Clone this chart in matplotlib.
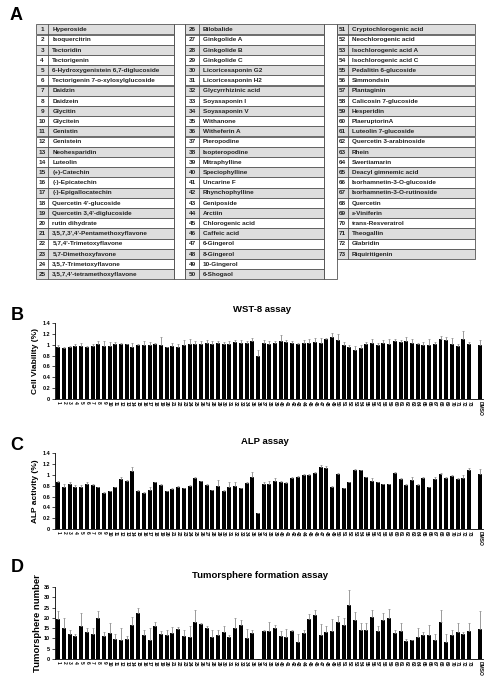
import numpy as np
import matplotlib
matplotlib.use("Agg")
import matplotlib.pyplot as plt
from matplotlib.patches import Rectangle

plt.rcParams['font.family'] = ['Liberation Sans', 'DejaVu Sans']

# --- Tabelle (Panel A) ---
compounds = [
    "Hyperoside", "Isoquercitrin", "Tectoridin", "Tectorigenin",
    "6-Hydroxygenistein 6,7-diglucoside", "Tectorigenin 7-o-xylosylglucoside",
    "Daidzin", "Daidzein", "Glycitin", "Glycitein", "Genistin", "Genistein",
    "Neohesparidin", "Luteolin", "(+)-Catechin", "(-)-Epicatechin",
    "(-)-Epigallocatechin", "Quercetin 4'-glucoside", "Quercetin 3,4'-diglucoside",
    "rutin dihydrate", "3,5,7,3',4'-Pentamethoxyflavone", "5,7,4'-Trimetoxyflavone",
    "5,7-Dimethoxyfavone", "3,5,7-Trimetoxyflavone", "3,5,7,4'-tetramethoxyflavone",
    "Bilobalide", "Ginkgolide A", "Ginkgolide B", "Ginkgolide C",
    "Licoricesaponin G2", "Licoricesaponin H2", "Glycyrrhizinic acid",
    "Soyasaponin I", "Soyasaponin V", "Withanone", "Witheferin A", "Pteropodine",
    "Isopteropodine", "Mitraphylline", "Speciophylline", "Uncarine F",
    "Rhynchophylline", "Geniposide", "Arctiin", "Chlorogenic acid", "Caffeic acid",
    "6-Gingerol", "8-Gingerol", "10-Gingerol", "6-Shogaol",
    "Cryptochlorogenic acid", "Neochlorogenic acid", "Isochlorogenic acid A",
    "Isochlorogenic acid C", "Pedalitin 6-glucoside", "Simmondsin", "Plantaginin",
    "Calicosin 7-glucoside", "Hesperidin", "PlaeruptorinA", "Luteolin 7-glucoside",
    "Quercetin 3-arabinoside", "Rhein", "Swertiamarin", "Deacyl gimnemic acid",
    "Isorhamnetin-3-O-glucoside", "Isorhamnetin-3-O-rutinoside", "Quercetin",
    "\u03b5-Viniferin", "trans-Resveratrol", "Theogallin", "Glabridin", "Riquiritigenin",
]

# --- Balkendaten ---
labels = [str(i) for i in range(1, 74)] + ["DMSO"]

wst8 = [0.96, 0.94, 0.96, 0.97, 0.98, 0.96, 0.97, 1.02, 0.97, 0.98,
        1.01, 1.02, 1.01, 0.95, 0.99, 1.00, 1.00, 1.02, 0.99, 0.95,
        0.98, 0.95, 0.99, 1.02, 1.02, 1.02, 1.03, 1.02, 1.03, 1.02,
        1.02, 1.05, 1.04, 1.04, 1.07, 0.79, 1.03, 1.02, 1.04, 1.06,
        1.05, 1.04, 1.02, 1.04, 1.04, 1.05, 1.04, 1.10, 1.14, 1.08,
        1.00, 0.96, 0.91, 0.94, 1.01, 1.03, 0.99, 1.04, 1.02, 1.06,
        1.05, 1.07, 1.04, 1.02, 1.00, 0.99, 1.01, 1.10, 1.08, 1.02,
        0.97, 1.10, 1.02, 1.00]
wst8_err = [0.04, 0.02, 0.02, 0.05, 0.05, 0.02, 0.05, 0.05, 0.09, 0.07,
            0.04, 0.01, 0.01, 0.08, 0.02, 0.07, 0.05, 0.01, 0.16, 0.01,
            0.05, 0.07, 0.10, 0.09, 0.04, 0.05, 0.05, 0.05, 0.03, 0.03,
            0.04, 0.04, 0.05, 0.02, 0.06, 0.11, 0.06, 0.04, 0.03, 0.11,
            0.03, 0.02, 0.02, 0.05, 0.06, 0.07, 0.08, 0.02, 0.08, 0.11,
            0.05, 0.04, 0.07, 0.05, 0.04, 0.08, 0.05, 0.04, 0.09, 0.05,
            0.04, 0.08, 0.07, 0.02, 0.05, 0.12, 0.04, 0.06, 0.07, 0.11,
            0.05, 0.15, 0.03, 0.09]

alp = [0.86, 0.78, 0.83, 0.78, 0.78, 0.83, 0.81, 0.77, 0.67, 0.70,
       0.77, 0.92, 0.89, 1.07, 0.70, 0.66, 0.73, 0.86, 0.81, 0.70,
       0.74, 0.78, 0.75, 0.80, 0.94, 0.88, 0.81, 0.72, 0.80, 0.71,
       0.78, 0.80, 0.75, 0.85, 0.97, 0.29, 0.83, 0.83, 0.89, 0.86,
       0.85, 0.95, 0.97, 1.00, 1.00, 1.03, 1.14, 1.12, 0.78, 1.01,
       0.75, 0.86, 1.10, 1.09, 0.96, 0.88, 0.86, 0.83, 0.83, 1.04,
       0.93, 0.81, 0.91, 0.81, 0.94, 0.77, 0.93, 1.02, 0.95, 0.98,
       0.93, 0.95, 1.09, 1.01]
alp_err = [0.02, 0.05, 0.03, 0.04, 0.03, 0.04, 0.03, 0.01, 0.01, 0.01,
           0.01, 0.04, 0.02, 0.08, 0.02, 0.02, 0.05, 0.01, 0.02, 0.01,
           0.01, 0.01, 0.01, 0.01, 0.02, 0.01, 0.02, 0.01, 0.10, 0.01,
           0.08, 0.06, 0.01, 0.01, 0.08, 0.00, 0.03, 0.05, 0.05, 0.03,
           0.02, 0.01, 0.01, 0.02, 0.01, 0.02, 0.05, 0.05, 0.01, 0.02,
           0.01, 0.01, 0.01, 0.01, 0.01, 0.06, 0.01, 0.01, 0.01, 0.01,
           0.02, 0.02, 0.06, 0.02, 0.02, 0.01, 0.03, 0.01, 0.01, 0.01,
           0.01, 0.04, 0.03, 0.10]

# Nr. 36 ohne Tumorsphären
tumor = [19.5, 15.0, 12.2, 11.2, 15.8, 13.2, 12.2, 20.0, 11.4, 12.5,
         9.6, 9.3, 9.9, 16.4, 22.6, 11.7, 9.3, 16.1, 12.2, 11.7,
         12.5, 14.5, 11.2, 10.6, 18.1, 17.1, 15.0, 10.9, 11.7, 13.0,
         10.6, 15.0, 16.6, 10.4, 12.5, 0.0, 13.4, 13.7, 15.3, 11.2,
         10.6, 13.4, 8.3, 12.5, 19.4, 21.5, 11.6, 13.0, 13.7, 17.8,
         16.4, 26.4, 19.1, 14.2, 14.2, 20.5, 13.8, 18.9, 19.9, 12.5,
         13.8, 8.8, 9.3, 10.9, 11.7, 11.7, 9.0, 18.2, 8.5, 11.9,
         13.2, 12.1, 13.4, 14.7]
tumor_err = [3.9, 4.9, 2.0, 1.1, 6.5, 2.1, 2.8, 3.4, 1.5, 4.9,
             2.4, 5.7, 1.3, 3.9, 2.0, 2.4, 6.0, 2.0, 1.6, 2.4,
             2.9, 1.0, 2.9, 5.2, 5.9, 0.3, 1.1, 3.1, 2.3, 2.8,
             1.0, 4.7, 2.4, 4.2, 1.6, 0.0, 0.5, 4.4, 1.0, 2.4,
             4.0, 0.8, 3.9, 1.6, 2.6, 2.4, 5.4, 2.8, 5.9, 2.9,
             3.4, 7.3, 3.6, 3.3, 3.3, 3.4, 2.0, 3.4, 4.4, 1.6,
             3.9, 1.1, 0.0, 4.1, 1.3, 4.9, 3.3, 5.4, 3.7, 2.4,
             4.2, 0.8, 4.1, 8.5]

W, H = 500, 688
fig = plt.figure(figsize=(W / 100, H / 100), dpi=100)

# Tabelle in Pixelkoordinaten zeichnen
axt = fig.add_axes([0, 0, 1, 1])
axt.set_xlim(0, W)
axt.set_ylim(H, 0)
axt.axis('off')

row_h = 10.2
top = 24.3
blocks = [(36, 48.3, 174, 0, 25), (185.3, 199, 324, 25, 25), (337.3, 347.7, 475, 50, 23)]
lc = '#555555'
for x0, xd, x1, start, n in blocks:
    for r in range(n):
        y = top + r * row_h
        fc = '#dedede' if r % 2 == 0 else 'white'
        axt.add_patch(Rectangle((x0, y), x1 - x0, row_h, facecolor=fc,
                                edgecolor=lc, linewidth=0.6))
        axt.plot([xd, xd], [y, y + row_h], color=lc, lw=0.6)
        axt.text((x0 + xd) / 2, y + row_h / 2 + 0.3, str(start + r + 1),
                 ha='center', va='center', fontsize=4.6, fontweight='bold', color='#222222')
        axt.text(xd + 4, y + row_h / 2 + 0.3, compounds[start + r],
                 ha='left', va='center', fontsize=4.6, fontweight='bold', color='#222222')
# Lücken zwischen den Spalten
for gx0, gx1 in [(174, 185.3), (324, 337.3)]:
    axt.add_patch(Rectangle((gx0, top), gx1 - gx0, 25 * row_h, facecolor='none',
                            edgecolor=lc, linewidth=0.6))

for letter, (lx, ly) in zip("ABCD", [(16, 16), (17, 315), (17, 446), (17, 567)]):
    fig.text(lx / W, 1 - ly / H, letter, fontsize=13, fontweight='bold',
             ha='center', va='center')

xpos = list(range(1, 74)) + [75]


def bar_panel(rect, vals, errs, ymax, ystep, ylabel, title, title_xy, lab_x, lab_fs):
    ax = fig.add_axes(rect)
    zeros = np.zeros(len(vals))
    ax.bar(xpos, vals, width=0.7, color='black',
           yerr=[zeros, errs],
           error_kw=dict(ecolor='#8a8a8a', elinewidth=0.6, capsize=0.8, capthick=0.5))
    ax.set_xlim(0.42, 75.45)
    ax.set_ylim(0, ymax)
    ax.set_yticks(np.arange(0, ymax + ystep / 2, ystep))
    ax.yaxis.set_major_formatter(matplotlib.ticker.FormatStrFormatter('%g'))
    ax.set_xticks(xpos)
    ax.set_xticklabels(labels, rotation=270, fontsize=3.5, fontweight='bold')
    for s in ['top', 'right']:
        ax.spines[s].set_visible(False)
    for s in ['left', 'bottom']:
        ax.spines[s].set_linewidth(0.6)
    ax.tick_params(axis='y', labelsize=4.0, length=2, width=0.5, pad=1.5)
    ax.tick_params(axis='x', length=0, pad=1.5)
    for t in ax.get_yticklabels():
        t.set_fontweight('bold')
    ax.set_ylabel(ylabel, fontsize=lab_fs, fontweight='bold')
    ax.yaxis.set_label_coords(lab_x, 0.5)
    fig.text(title_xy[0] / W, 1 - title_xy[1] / H, title, fontsize=6.8,
             fontweight='bold', ha='center', va='center')
    return ax


left = 55 / W
width = (483 - 55) / W
bar_panel([left, 1 - 399 / H, width, 76 / H], wst8, wst8_err, 1.4, 0.2,
          "Cell Viability (%)", "WST-8 assay", (262, 310), -0.038, 6.0)
bar_panel([left, 1 - 529 / H, width, 75.7 / H], alp, alp_err, 1.4, 0.2,
          "ALP activity (%)", "ALP assay", (265, 442), -0.038, 6.0)
bar_panel([left, 1 - 659 / H, width, 72 / H], tumor, tumor_err, 35, 5,
          "Tumorsphere number", "Tumorsphere formation assay", (260, 575), -0.03, 6.8)

fig.savefig("out.png", dpi=100)
